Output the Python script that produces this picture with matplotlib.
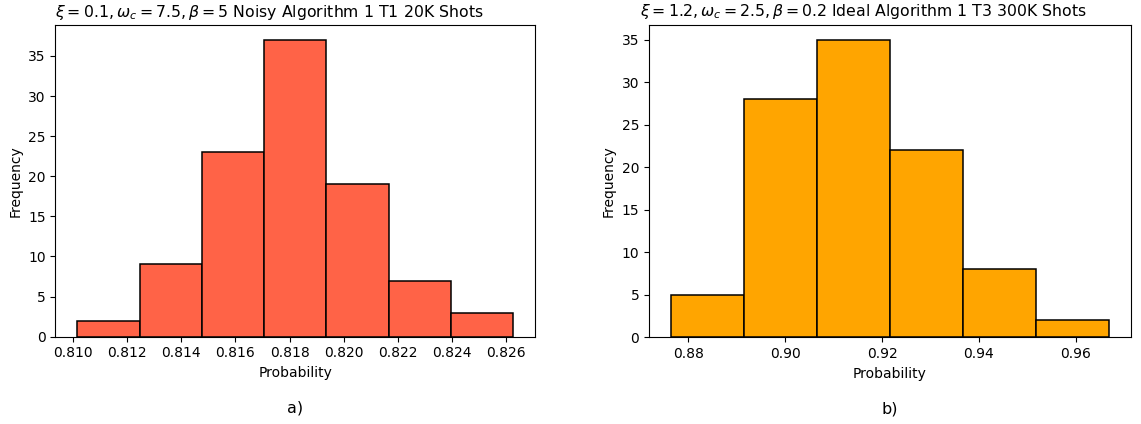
import numpy as np
import matplotlib.pyplot as plt

# left panel: noisy run, 7 bins
edges_a = [0.81014, 0.81245, 0.81475, 0.81706, 0.81936, 0.82167, 0.82397, 0.82628]
counts_a = [2, 9, 23, 37, 19, 7, 3]
title_a = r'$\xi = 0.1, \omega_c = 7.5, \beta = 5$ Noisy Algorithm 1 T1 20K Shots'

# right panel: ideal run, 6 bins
edges_b = [0.87644, 0.89151, 0.90657, 0.92164, 0.93670, 0.95177, 0.96683]
counts_b = [5, 28, 35, 22, 8, 2]
title_b = r'$\xi = 1.2, \omega_c = 2.5, \beta = 0.2$ Ideal Algorithm 1 T3 300K Shots'

fig = plt.figure(figsize=(11.41, 4.24), dpi=100)
ax1 = fig.add_axes([0.0485, 0.2059, 0.4204, 0.7351])
ax2 = fig.add_axes([0.5688, 0.2045, 0.4224, 0.7370])

panels = [(ax1, edges_a, counts_a, '#FF6347', title_a, 'a)'),
          (ax2, edges_b, counts_b, '#FFA500', title_b, 'b)')]

for ax, edges, counts, col, title, tag in panels:
    ax.hist(edges[:-1], bins=edges, weights=counts, color=col,
            edgecolor='black', linewidth=1.1)
    ax.set_title(title, fontsize=11.3, x=0.445)
    ax.set_xlabel('Probability', fontsize=10)
    ax.set_ylabel('Frequency', fontsize=10)
    ax.tick_params(labelsize=10)
    ax.text(0.5, -0.228, tag, transform=ax.transAxes, ha='center',
            va='center', fontsize=11.5)

ax1.set_xticks(np.arange(0.810, 0.8261, 0.002))
ax1.set_xticklabels(['%.3f' % t for t in np.arange(0.810, 0.8261, 0.002)])

fig.savefig('out.png', dpi=100)
